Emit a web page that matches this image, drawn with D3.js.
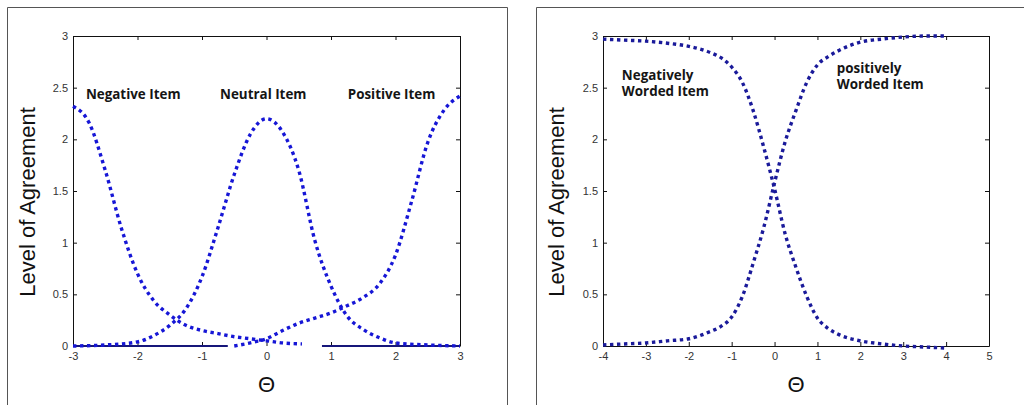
<!DOCTYPE html>
<html>
<head>
<meta charset="utf-8">
<script src="https://cdn.jsdelivr.net/npm/d3@7"></script>
<style>
  html, body { margin: 0; padding: 0; background: #fff; }
  svg { display: block; }
</style>
</head>
<body>
<svg id="fig" width="1024" height="405"></svg>
<script>
// ---- Left panel: negative / neutral / positive item curves ----
const negativeItemTheta  = [-3, -2.75, -2.5, -2.25, -2, -1.75, -1.5, -1.25, -1, -0.75, -0.5, -0.25, 0, 0.25, 0.55];
const negativeItemValues = [2.32, 2.16, 1.70, 1.14, 0.70, 0.44, 0.30, 0.20, 0.15, 0.12, 0.09, 0.07, 0.05, 0.03, 0.02];

const neutralItemTheta  = [-3, -2.5, -2, -1.75, -1.5, -1.25, -1, -0.75, -0.5, -0.25, 0, 0.25, 0.5, 0.75, 1, 1.25, 1.5, 1.75, 2, 2.5, 3];
const neutralItemValues = [0.00, 0.01, 0.04, 0.10, 0.20, 0.36, 0.67, 1.15, 1.66, 2.05, 2.20, 2.07, 1.70, 1.02, 0.58, 0.29, 0.16, 0.08, 0.03, 0.01, 0.00];

const positiveItemTheta  = [-0.5, -0.25, 0, 0.25, 0.5, 0.75, 1, 1.25, 1.5, 1.75, 2, 2.25, 2.5, 2.75, 3];
const positiveItemValues = [0.00, 0.03, 0.07, 0.15, 0.22, 0.27, 0.32, 0.39, 0.47, 0.60, 0.88, 1.40, 1.97, 2.28, 2.42];

// solid zero line pieces along the bottom of the left axes
const baselineSegments = [[-3, -0.6], [0.86, 3]];

const leftXTicks      = [-3, -2, -1, 0, 1, 2, 3];
const leftXTickLabels = ["-3", "-2", "-1", "0", "1", "2", "3"];

const leftLabels = ["Negative Item", "Neutral Item", "Positive Item"];
const leftLabelTheta = [-2.80, -0.72, 1.26];
const leftLabelValue = [2.39, 2.39, 2.39];

// ---- Right panel: negatively / positively worded items ----
const wordedTheta = [-4, -3.5, -3, -2.5, -2, -1.5, -1.25, -1, -0.75, -0.5, -0.25, 0, 0.25, 0.5, 0.75, 1, 1.25, 1.5, 2, 2.5, 3, 3.5, 4];
const negativelyWordedValues = [2.97, 2.96, 2.95, 2.93, 2.90, 2.84, 2.79, 2.70, 2.55, 2.28, 1.92, 1.52, 1.08, 0.76, 0.48, 0.27, 0.17, 0.11, 0.05, 0.02, 0.00, -0.01, -0.02];
const positivelyWordedValues = [0.01, 0.02, 0.03, 0.05, 0.07, 0.14, 0.19, 0.28, 0.48, 0.80, 1.15, 1.58, 1.98, 2.28, 2.55, 2.72, 2.80, 2.86, 2.94, 2.97, 2.99, 3.00, 3.00];

const rightXTicks      = [-4, -3, -2, -1, 0, 1, 2, 3, 4, 5];
const rightXTickLabels = ["-4", "-3", "-2", "-1", "0", "1", "2", "3", "4", "5"];

const rightLabels = [["Negatively", "Worded Item"], ["positively", "Worded Item"]];
const rightLabelTheta = [-3.56, 1.45];
const rightLabelValue = [2.574, 2.64];

// ---- shared y axis ----
const yTicks      = [0, 0.5, 1, 1.5, 2, 2.5, 3];
const yTickLabels = ["0", "0.5", "1", "1.5", "2", "2.5", "3"];

const svg = d3.select("#fig");
const tickFont = "'Liberation Sans', Arial, sans-serif";
const noteFont = "'Open Sans', 'Noto Sans', sans-serif";

function zip(xs, ys) { return xs.map((t, i) => [t, ys[i]]); }

function drawPanel(opt) {
  // outer figure frame
  svg.append("path")
    .attr("d", `M${opt.frame[0] + 0.5},${420} V${7.5} H${opt.frame[1] + 0.5}` + (opt.frame[1] < 1024 ? ` V${420}` : ""))
    .attr("fill", "none").attr("stroke", "#555").attr("stroke-width", 1);

  const x = d3.scaleLinear().domain(opt.xDomain).range([opt.left, opt.right]);
  const y = d3.scaleLinear().domain([0, 3]).range([opt.bottom, opt.top]);
  const g = svg.append("g");

  // inward ticks on all four sides
  const fmtX = (d, i) => opt.xTickLabels[i];
  const fmtY = (d, i) => yTickLabels[i];

  const bottomAxis = g.append("g").attr("transform", `translate(0,${opt.bottom})`)
    .call(d3.axisBottom(x).tickValues(opt.xTicks).tickFormat(fmtX).tickSize(-4).tickSizeOuter(0).tickPadding(6));
  const topAxis = g.append("g").attr("transform", `translate(0,${opt.top})`)
    .call(d3.axisTop(x).tickValues(opt.xTicks).tickFormat("").tickSize(-4).tickSizeOuter(0));
  const leftAxis = g.append("g").attr("transform", `translate(${opt.left},0)`)
    .call(d3.axisLeft(y).tickValues(yTicks).tickFormat(fmtY).tickSize(-4).tickSizeOuter(0).tickPadding(5));
  const rightAxis = g.append("g").attr("transform", `translate(${opt.right},0)`)
    .call(d3.axisRight(y).tickValues(yTicks).tickFormat("").tickSize(-4).tickSizeOuter(0));

  [bottomAxis, topAxis, leftAxis, rightAxis].forEach(a => {
    a.selectAll("path.domain").attr("stroke", "#111").attr("stroke-width", 1);
    a.selectAll(".tick line").attr("stroke", "#111");
    a.selectAll(".tick text").attr("fill", "#333").style("font-family", tickFont).style("font-size", "11px");
  });
  if (opt.baseline) bottomAxis.select("path.domain").remove();

  if (opt.baseline) {
    opt.baseline.forEach(s => {
      g.append("line")
        .attr("x1", x(s[0])).attr("x2", x(s[1]))
        .attr("y1", y(0)).attr("y2", y(0))
        .attr("stroke", "#16167a").attr("stroke-width", 2);
    });
  }

  const line = d3.line().x(d => x(d[0])).y(d => y(d[1])).curve(d3.curveMonotoneX);
  opt.series.forEach(s => {
    g.append("path")
      .datum(s)
      .attr("d", line)
      .attr("fill", "none")
      .attr("stroke", opt.color)
      .attr("stroke-width", 3.4)
      .attr("stroke-dasharray", "3.4,3.6");
  });

  // annotations, one text element per line
  opt.notes.forEach(n => {
    n.lines.forEach((l, i) => {
      g.append("text")
        .attr("x", x(n.theta)).attr("y", y(n.value) + i * 16)
        .attr("fill", "#151515")
        .style("font-family", noteFont).style("font-weight", 700).style("font-size", "13.4px")
        .text(l);
    });
  });

  // axis titles
  svg.append("text")
    .attr("transform", `translate(${opt.yTitleX},202) rotate(-90)`)
    .attr("text-anchor", "middle")
    .attr("fill", "#111")
    .style("font-family", tickFont).style("font-size", "22px")
    .text("Level of Agreement");
  svg.append("text")
    .attr("x", (opt.left + opt.right) / 2).attr("y", 392)
    .attr("text-anchor", "middle")
    .attr("fill", "#111")
    .style("font-family", tickFont).style("font-size", "22px")
    .text("\u0398");
}

drawPanel({
  frame: [7, 507],
  left: 73, right: 460, top: 36, bottom: 346,
  xDomain: [-3, 3],
  xTicks: leftXTicks, xTickLabels: leftXTickLabels,
  color: "#1616d6",
  baseline: baselineSegments,
  series: [
    zip(negativeItemTheta, negativeItemValues),
    zip(neutralItemTheta, neutralItemValues),
    zip(positiveItemTheta, positiveItemValues)
  ],
  notes: leftLabels.map((l, i) => ({ lines: [l], theta: leftLabelTheta[i], value: leftLabelValue[i] })),
  yTitleX: 35
});

drawPanel({
  frame: [536, 1100],
  left: 603, right: 989, top: 36, bottom: 346,
  xDomain: [-4, 5],
  xTicks: rightXTicks, xTickLabels: rightXTickLabels,
  color: "#1a1a9a",
  baseline: null,
  series: [
    zip(wordedTheta, negativelyWordedValues),
    zip(wordedTheta, positivelyWordedValues)
  ],
  notes: rightLabels.map((l, i) => ({ lines: l, theta: rightLabelTheta[i], value: rightLabelValue[i] })),
  yTitleX: 564
});
</script>
</body>
</html>
